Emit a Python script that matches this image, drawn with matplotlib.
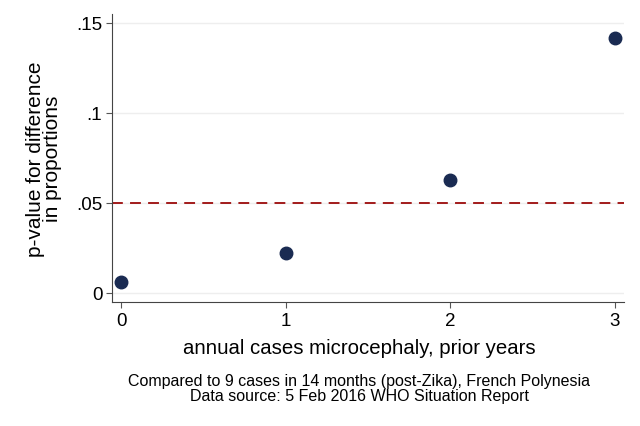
import matplotlib.pyplot as plt

plt.rcParams['font.family'] = ['Liberation Sans', 'DejaVu Sans']

# annual cases of microcephaly in prior years vs p-value
prior_cases = [0, 1, 2, 3]
p_values = [0.0061, 0.0224, 0.0628, 0.1415]
threshold = 0.05

y_ticks = [0, 0.05, 0.1, 0.15]
y_tick_labels = ['0', '.05', '.1', '.15']
x_ticks = [0, 1, 2, 3]

fig = plt.figure(figsize=(6.4, 4.27), dpi=100)
ax = fig.add_axes([0.175, 0.2904, 0.80, 0.6745])

for yt in y_ticks:
    ax.axhline(yt, color='#eeeeee', lw=1, zorder=0)

ax.axhline(threshold, color='#9b0a0a', lw=1.3, ls=(0, (6, 4)), zorder=1)
ax.plot(prior_cases, p_values, 'o', color='#1a2b52', markersize=9, zorder=2)

ax.set_xlim(-0.0565, 3.056)
ax.set_ylim(-0.005, 0.155)
ax.set_xticks(x_ticks)
ax.set_yticks(y_ticks)
ax.set_yticklabels(y_tick_labels)
ax.tick_params(labelsize=13.5, length=4, color='#555555', width=0.8, pad=3)

for side in ['top', 'right']:
    ax.spines[side].set_visible(False)
for side in ['left', 'bottom']:
    ax.spines[side].set_color('#444444')
    ax.spines[side].set_linewidth(0.8)

ax.set_ylabel('p-value for difference\nin proportions', fontsize=15, linespacing=0.9)
ax.yaxis.set_label_coords(-0.097, 0.5)

fig.text(0.561, 0.185, 'annual cases microcephaly, prior years', ha='center', va='center', fontsize=14.7)
fig.text(0.561, 0.089, 'Compared to 9 cases in 14 months (post-Zika), French Polynesia\nData source: 5 Feb 2016 WHO Situation Report',
         ha='center', va='center', fontsize=11.5, linespacing=1.0)

fig.savefig('out.png', dpi=100)
